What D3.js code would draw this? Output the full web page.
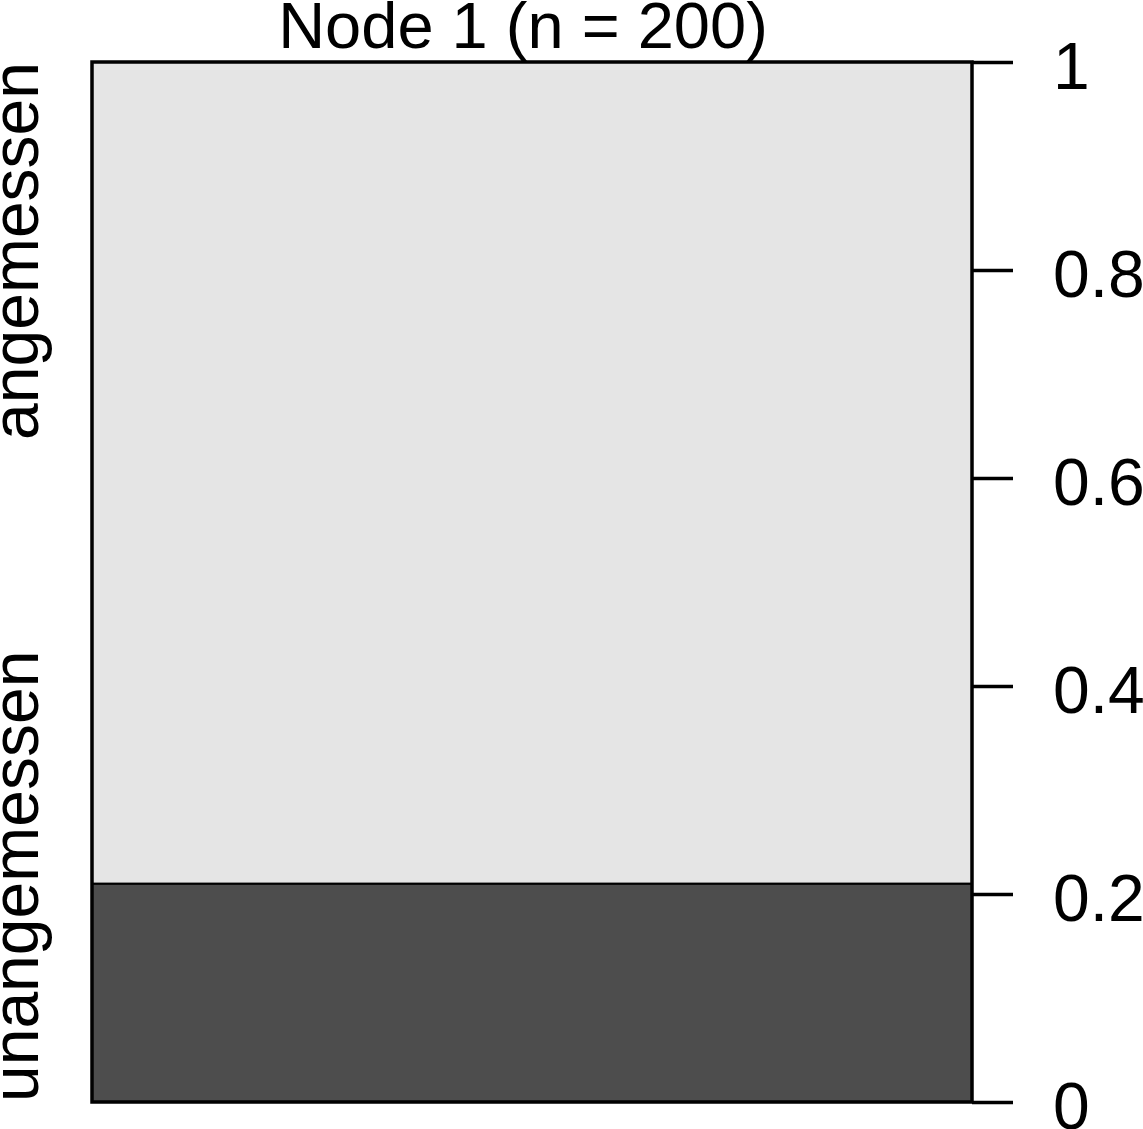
<!DOCTYPE html>
<html>
<head>
<meta charset="utf-8">
<script src="https://cdn.jsdelivr.net/npm/d3@7"></script>
<style>
  body { margin: 0; background: #ffffff; }
  text { font-family: "Liberation Sans", Arial, sans-serif; }
</style>
</head>
<body>
<div id="chart"></div>
<script>
// node 1 class proportions (n = 200)
const classes = ["unangemessen", "angemessen"];
const proportions = [0.21, 0.79];
const classColours = ["#4d4d4d", "#e5e5e5"];
const tickValues = [0, 0.2, 0.4, 0.6, 0.8, 1];
const title = "Node 1 (n = 200)";

const width = 1143, height = 1129;
const fontSize = 66;

const boxLeft = 92, boxRight = 972;

const svg = d3.select("#chart")
  .append("svg")
  .attr("width", width)
  .attr("height", height);

const y = d3.scaleLinear()
  .domain([0, 1])
  .range([1102, 62]);

// stack the proportions
var stacked = [];
var acc = 0;
proportions.forEach((p, i) => {
  stacked.push({ cls: classes[i], y0: acc, y1: acc + p, colour: classColours[i] });
  acc += p;
});

svg.selectAll("rect.seg")
  .data(stacked)
  .enter()
  .append("rect")
  .attr("class", "seg")
  .attr("x", boxLeft)
  .attr("width", boxRight - boxLeft)
  .attr("y", d => y(d.y1))
  .attr("height", d => y(d.y0) - y(d.y1))
  .style("fill", d => d.colour)
  .attr("stroke", "#000")
  .attr("stroke-width", 2);

// outer frame
svg.append("rect")
  .attr("x", boxLeft)
  .attr("y", y(1))
  .attr("width", boxRight - boxLeft)
  .attr("height", y(0) - y(1))
  .attr("fill", "none")
  .attr("stroke", "#000")
  .attr("stroke-width", 3.5);

// right axis
const axis = svg.append("g")
  .attr("transform", "translate(" + boxRight + ",0)")
  .call(d3.axisRight(y)
    .tickValues(tickValues)
    .tickSize(41)
    .tickPadding(40)
    .tickFormat(d3.format("~g")));

axis.select(".domain").remove();
axis.selectAll(".tick line")
  .attr("stroke", "#000")
  .attr("stroke-width", 3.5);
axis.selectAll(".tick text")
  .attr("fill", "#000")
  .attr("dy", "0.4em")
  .style("font-size", fontSize + "px")
  .style("font-family", "'Liberation Sans', Arial, sans-serif");

// class labels on the left, rotated
svg.selectAll("text.cls")
  .data(classes)
  .enter()
  .append("text")
  .attr("class", "cls")
  .attr("transform", (d, i) => "translate(38," + (i == 0 ? y(0) : y(1)) + ")rotate(-90)")
  .attr("text-anchor", (d, i) => i == 0 ? "start" : "end")
  .style("font-size", fontSize + "px")
  .attr("fill", "#000")
  .text(d => d);

// title
svg.append("text")
  .attr("x", 523)
  .attr("y", 48)
  .attr("text-anchor", "middle")
  .style("font-size", "65px")
  .attr("fill", "#000")
  .text(title);
</script>
</body>
</html>
